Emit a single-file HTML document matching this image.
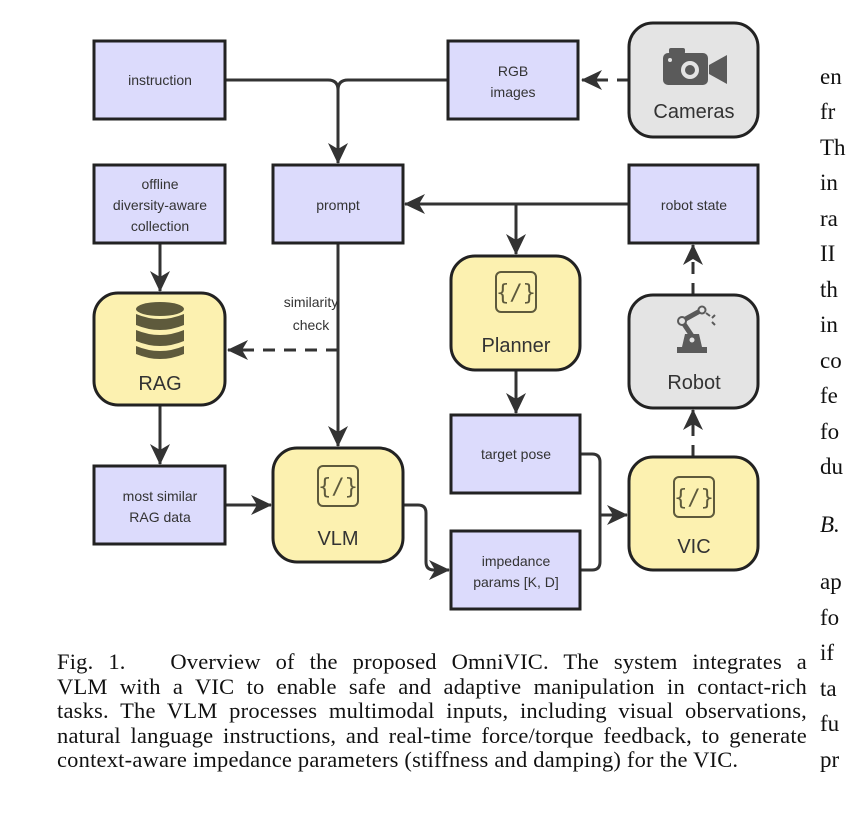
<!DOCTYPE html>
<html><head><meta charset="utf-8"><style>
html,body{margin:0;padding:0;background:#fff}
body{width:864px;height:814px;position:relative;overflow:hidden}
svg{position:absolute;left:0;top:0}
.cap{position:absolute;left:57px;width:750px;font-family:"Liberation Serif",serif;font-size:22.5px;line-height:24.5px;color:#111;text-align:justify;text-align-last:justify;top:650px;letter-spacing:0.2px}
.cap div{height:24.5px;white-space:nowrap}
.col{position:absolute;left:820px;font-family:"Liberation Serif",serif;font-size:23px;color:#111;white-space:nowrap}
</style></head><body>
<svg width="864" height="814" viewBox="0 0 864 814" font-family="Liberation Sans, sans-serif">
<defs>
<marker id="ab" markerWidth="22" markerHeight="22" refX="20" refY="11" orient="auto" markerUnits="userSpaceOnUse" viewBox="0 0 22 22"><path d="M0,1 L21,11 L0,21 L6,11 Z" fill="#333"/></marker>
</defs>
<g stroke="#333" stroke-width="3" fill="none">
<path d="M225,80 H328 Q338,80 338,90 V163" marker-end="url(#ab)"/>
<path d="M448,80 H348 Q338,80 338,90"/>
<path d="M629,80 H582" stroke-dasharray="12,9" marker-end="url(#ab)"/>
<path d="M629,204 H405" marker-end="url(#ab)"/>
<path d="M516,204 V254" marker-end="url(#ab)"/>
<path d="M160,243 V291" marker-end="url(#ab)"/>
<path d="M338,243 V446" marker-end="url(#ab)"/>
<path d="M338,350 H228" stroke-dasharray="12,9" marker-end="url(#ab)"/>
<path d="M160,405 V464" marker-end="url(#ab)"/>
<path d="M225,505 H271" marker-end="url(#ab)"/>
<path d="M403,505 H418 Q426,505 426,513 V562 Q426,570 434,570 H449" marker-end="url(#ab)"/>
<path d="M516,370 V413" marker-end="url(#ab)"/>
<path d="M580,454 H592 Q600,454 600,462 V515 H627" marker-end="url(#ab)"/>
<path d="M580,570 H592 Q600,570 600,562 V515"/>
<path d="M693,457 V410" stroke-dasharray="12,9" marker-end="url(#ab)"/>
<path d="M693,295 V245" stroke-dasharray="12,9" marker-end="url(#ab)"/>
</g>
<g stroke="#222" stroke-width="3">
<rect x="94" y="41" width="131" height="78" fill="#dcdbfc"/>
<rect x="448" y="41" width="130" height="78" fill="#dcdbfc"/>
<rect x="94" y="165" width="131" height="78" fill="#dcdbfc"/>
<rect x="273" y="165" width="130" height="78" fill="#dcdbfc"/>
<rect x="629" y="165" width="129" height="78" fill="#dcdbfc"/>
<rect x="94" y="466" width="131" height="78" fill="#dcdbfc"/>
<rect x="451" y="415" width="129" height="78" fill="#dcdbfc"/>
<rect x="451" y="531" width="129" height="78" fill="#dcdbfc"/>
<rect x="629" y="23" width="129" height="114" rx="24" fill="#e4e4e4"/>
<rect x="629" y="295" width="129" height="113" rx="24" fill="#e4e4e4"/>
<rect x="94" y="293" width="131" height="112" rx="24" fill="#fcf1b0"/>
<rect x="451" y="256" width="129" height="114" rx="24" fill="#fcf1b0"/>
<rect x="273" y="448" width="130" height="114" rx="24" fill="#fcf1b0"/>
<rect x="629" y="457" width="129" height="113" rx="24" fill="#fcf1b0"/>
</g>
<g stroke="#5e5a3c" stroke-width="2" fill="none">
<rect x="496" y="272" width="40" height="40" rx="5"/>
<rect x="318" y="466" width="40" height="40" rx="5"/>
<rect x="674" y="477" width="40" height="40" rx="5"/>
</g>
<g font-size="22" fill="#5e5a3c" text-anchor="middle" font-family="DejaVu Sans Mono, monospace">
<text x="516" y="300">{/}</text>
<text x="338" y="494">{/}</text>
<text x="694" y="505">{/}</text>
</g>
<g fill="#5e5a3c">
<ellipse cx="160" cy="309" rx="24" ry="7"/>
<path d="M136,314 Q160,324 184,314 V325 Q160,335 136,325 Z"/>
<path d="M136,330 Q160,340 184,330 V341 Q160,351 136,341 Z"/>
<path d="M136,346 Q160,356 184,346 V354 Q160,364 136,354 Z"/>
</g>
<g fill="#5a5a5a">
<rect x="669" y="48" width="16" height="6" rx="2"/>
<rect x="663" y="53" width="45" height="32" rx="5"/>
<path d="M709,65 L727,55 V84 L709,74 Z"/>
<circle cx="690" cy="70" r="9" fill="#e4e4e4"/>
<circle cx="690" cy="70" r="5"/>
<circle cx="670" cy="60" r="2" fill="#e4e4e4"/>
</g>
<g fill="#5a5a5a" stroke="#5a5a5a">
<rect x="677" y="347" width="30" height="6" stroke="none"/>
<path d="M682,347 L685,334 H699 L702,347 Z" stroke="none"/>
<circle cx="692" cy="340" r="2.5" fill="#e4e4e4" stroke="none"/>
<path d="M692,336 L682,321 L700,311" stroke-width="5" fill="none"/>
<circle cx="682" cy="321" r="4" fill="#e4e4e4" stroke-width="2"/>
<circle cx="702" cy="310" r="3.5" fill="#e4e4e4" stroke-width="2"/>
<path d="M706,313 l4,3 M712,318 l3,-3 M712,322 l3,3" stroke-width="2" fill="none"/>
</g>
<g font-size="14" fill="#333" text-anchor="middle">
<text x="160" y="85">instruction</text>
<text x="513" y="76">RGB</text><text x="513" y="97">images</text>
<text x="160" y="189">offline</text><text x="160" y="210">diversity-aware</text><text x="160" y="231">collection</text>
<text x="338" y="210">prompt</text>
<text x="694" y="210">robot state</text>
<text x="311" y="307">similarity</text><text x="311" y="330">check</text>
<text x="160" y="501">most similar</text><text x="160" y="522">RAG data</text>
<text x="516" y="459">target pose</text>
<text x="516" y="566">impedance</text><text x="516" y="587">params [K, D]</text>
</g>
<g font-size="20" fill="#333" text-anchor="middle">
<text x="694" y="118">Cameras</text>
<text x="160" y="390">RAG</text>
<text x="516" y="352">Planner</text>
<text x="694" y="389">Robot</text>
<text x="338" y="545">VLM</text>
<text x="694" y="553">VIC</text>
</g>
</svg>
<div class="cap">
<div>Fig. 1.&nbsp;&nbsp; Overview of the proposed OmniVIC. The system integrates a</div>
<div>VLM with a VIC to enable safe and adaptive manipulation in contact-rich</div>
<div>tasks. The VLM processes multimodal inputs, including visual observations,</div>
<div>natural language instructions, and real-time force/torque feedback, to generate</div>
<div style="text-align-last:left">context-aware impedance parameters (stiffness and damping) for the VIC.</div>
</div>
<div class="col" style="top:64px">en</div>
<div class="col" style="top:99px">fr</div>
<div class="col" style="top:135px">Th</div>
<div class="col" style="top:170px">in</div>
<div class="col" style="top:206px">ra</div>
<div class="col" style="top:241px">II</div>
<div class="col" style="top:277px">th</div>
<div class="col" style="top:312px">in</div>
<div class="col" style="top:348px">co</div>
<div class="col" style="top:383px">fe</div>
<div class="col" style="top:419px">fo</div>
<div class="col" style="top:454px">du</div>
<div class="col" style="top:512px;font-style:italic">B.</div>
<div class="col" style="top:569px">ap</div>
<div class="col" style="top:605px">fo</div>
<div class="col" style="top:640px">if</div>
<div class="col" style="top:676px">ta</div>
<div class="col" style="top:711px">fu</div>
<div class="col" style="top:747px">pr</div>
</body></html>
